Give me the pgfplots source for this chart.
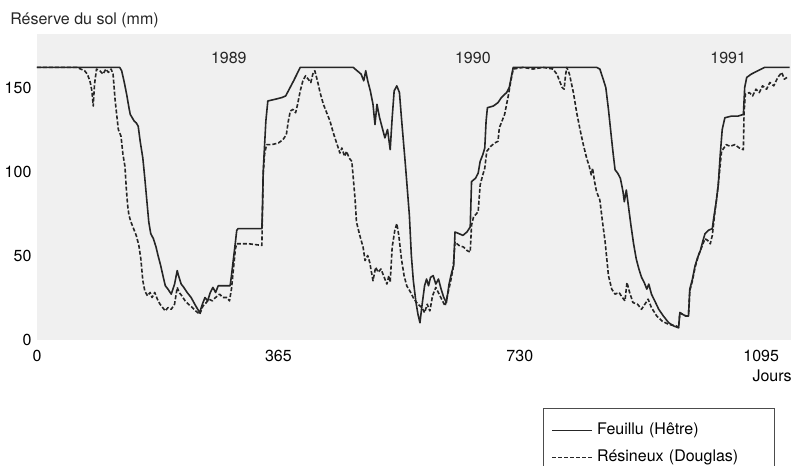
\documentclass[border=0pt]{standalone}
\usepackage{fontspec}
\setmainfont{TeX Gyre Heros}
\usepackage{pgfplots}
\usepackage{pgfplotstable}
\pgfplotsset{compat=1.18}

% reserve du sol (mm), feuillu (hetre)
\pgfplotstableread{
jour val
0 162
60 162
125 162
128 160
132 153
136 145
139 138
141 134
144 132
147 130
150 129
153 127
156 118
160 108
163 96
166 83
169 70
172 63
176 60
180 55
183 50
187 44
191 37
194 32
198 30
203 27
208 33
212 41
214 38
218 33
222 31
227 28
233 25
240 20
246 16
250 21
254 25
258 23
262 28
266 31
270 28
274 32
292 32
294 38
297 48
300 58
302 65
304 66
340 66
341 80
342 100
344 115
346 130
349 142
360 143
370 144
376 145
380 148
384 151
388 154
393 158
398 162
478 162
484 160
490 158
494 154
497 160
500 154
504 148
508 140
511 128
514 140
518 132
522 126
526 120
530 125
534 113
537 132
540 148
544 151
548 147
551 132
554 118
557 104
560 89
563 74
566 50
569 35
573 22
576 15
579 10
582 20
586 32
589 36
592 32
595 37
599 38
603 33
607 36
611 30
615 25
619 22
623 33
627 40
630 44
632 64
638 63
644 62
650 64
655 67
657 94
663 96
667 99
670 106
674 110
677 114
679 130
681 138
690 139
697 141
702 144
710 147
714 150
717 156
720 162
846 162
851 161
856 155
860 150
864 137
868 122
871 111
874 101
878 99
882 96
886 88
888 82
891 89
894 80
898 68
902 57
906 48
910 42
914 37
918 34
922 30
925 33
929 27
934 23
940 18
947 14
955 10
963 8
970 7
972 16
976 15
981 14
985 14
987 30
991 36
995 44
999 49
1003 53
1007 59
1010 63
1015 65
1021 66
1023 72
1027 82
1030 92
1033 110
1036 125
1040 132
1050 133
1060 133
1068 134
1070 150
1073 156
1080 158
1090 160
1100 162
1138 162
}\feuillu

% resineux (douglas)
\pgfplotstableread{
jour val
0 162
60 162
66 161
72 160
76 158
80 154
83 148
85 139
87 152
90 161
95 160
100 158
104 161
108 159
112 161
115 158
118 143
121 132
123 125
127 121
130 110
133 103
135 90
137 80
139 74
142 70
146 66
150 62
154 56
157 48
160 35
163 29
167 26
171 28
174 25
178 28
182 24
186 21
190 19
194 17
198 19
203 18
208 21
212 31
215 28
219 26
224 23
229 21
235 19
240 17
246 15
251 20
256 22
260 24
265 23
270 25
276 27
281 25
287 25
291 23
294 30
297 42
300 54
302 57
320 57
340 56
341 80
342 98
344 110
347 116
355 116
365 117
372 119
377 122
380 130
383 136
387 137
391 135
394 140
398 148
402 154
406 157
410 155
414 153
417 158
420 160
424 154
428 147
433 140
438 135
443 130
448 123
453 117
458 111
461 114
465 109
468 112
472 108
476 106
478 97
481 83
483 70
488 62
493 55
496 47
500 50
503 46
508 35
512 43
516 40
520 42
524 38
529 33
532 38
534 34
537 55
541 65
544 69
547 62
551 48
555 38
559 32
565 28
570 24
576 21
582 19
586 16
590 21
594 17
598 26
603 31
608 27
613 23
617 20
621 27
625 34
629 42
632 58
638 56
645 55
650 53
655 52
657 68
660 73
667 76
670 92
674 98
677 102
680 112
686 115
692 117
697 118
699 126
703 130
707 134
710 140
713 146
716 153
720 161
735 162
750 161
765 162
780 161
786 158
790 154
794 150
797 149
799 157
801 162
805 158
811 147
816 135
821 125
826 116
831 108
835 103
838 98
840 102
843 94
846 88
851 83
855 70
859 58
862 46
864 38
869 30
874 27
880 28
885 25
889 23
892 34
896 28
901 22
908 21
914 18
919 21
924 24
929 19
937 14
945 11
955 9
967 8
970 7
972 16
976 15
981 14
985 14
987 29
991 35
995 43
1000 50
1005 55
1010 60
1014 59
1018 57
1021 62
1025 76
1030 92
1035 112
1042 116
1048 115
1055 116
1062 114
1068 113
1069 135
1071 146
1077 147
1082 145
1087 149
1092 147
1097 151
1103 149
1108 153
1114 151
1120 156
1126 159
1130 155
1134 156
}\douglas

\begin{document}
\fontsize{12}{14}\selectfont
\begin{tikzpicture}
\begin{axis}[
    at={(0,0)}, anchor=south west,
    scale only axis,
    width=565.5pt, height=229.3pt,
    xmin=0, xmax=1140, ymin=0, ymax=182,
    axis line style={draw=none},
    major tick length=0pt,
    xtick={0,365,730,1095},
    ytick={0,50,100,150},
    tick label style={font=\fontsize{12}{14}\selectfont},
    /pgf/number format/assume math mode=true,
    /pgf/number format/1000 sep={},
    xticklabel style={yshift=-3.5pt},
    axis background/.style={fill=black!6},
    clip=false,
    xlabel={Jours},
    xlabel style={at={(rel axis cs:1,0)}, anchor=east, inner sep=0pt,
        xshift=0.75pt, yshift=-27pt},
    legend cell align=left,
    legend style={at={(axis cs:765,-40.8)}, anchor=north west,
        draw=black!70, line width=0.8pt, fill=white,
        inner xsep=3pt, inner ysep=9pt, row sep=5.5pt,
        font=\fontsize{12}{14}\selectfont,
        /tikz/every even column/.append style={text width=128pt}},
    legend image code/.code={%
        \path (0pt,0pt) (34pt,0pt);
        \draw[#1, line width=0.7pt] (3pt,0pt) -- (33pt,0pt);},
]
\addplot[black!85, line width=1.2pt, line join=round] table[x=jour, y=val] {\feuillu};
\addplot[black!85, line width=1.2pt, line join=round,
    dash pattern=on 3pt off 1.5pt] table[x=jour, y=val] {\douglas};
\legend{Feuillu (Hêtre), Résineux (Douglas)}

\node[black!85] at (axis cs:290,167.6) {1989};
\node[black!85] at (axis cs:659,167.6) {1990};
\node[black!85] at (axis cs:1045,167.6) {1991};
\node[anchor=west, inner sep=0pt, black!85] at (rel axis cs:0,1)
    [xshift=-20.25pt, yshift=10.3pt] {Réserve du sol (mm)};
\end{axis}
\pgfresetboundingbox
\path (-27.75pt,-94.125pt) rectangle (567pt,254.625pt);
\end{tikzpicture}
\end{document}
